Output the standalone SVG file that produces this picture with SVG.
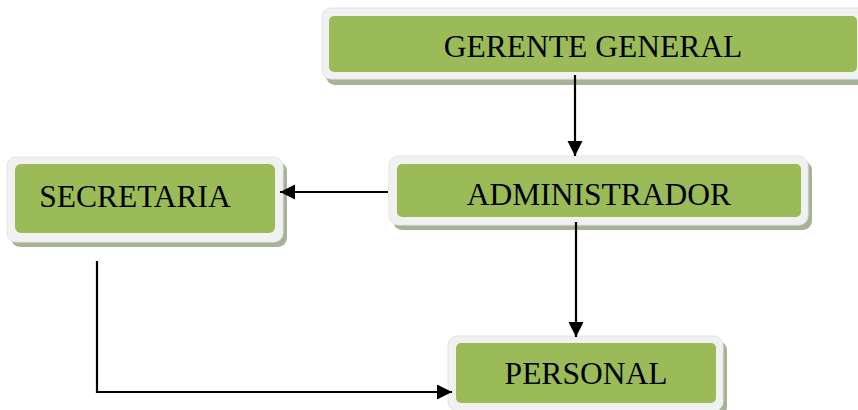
<svg xmlns="http://www.w3.org/2000/svg" width="858" height="410" viewBox="0 0 858 410">
<style>
.shadow{fill:#A7B296;}
.frame{fill:#F1F1F1;stroke:#E4E4E4;stroke-width:1;}
.box{fill:#9BBB59;}
.label{font-family:"Liberation Serif","Times New Roman",serif;font-size:31.5px;fill:#000;}
.conn{fill:none;stroke:#000;stroke-width:2.2;}
</style>
<defs>
<marker id="arr" markerUnits="userSpaceOnUse" markerWidth="16" markerHeight="16" refX="15" refY="7.5" orient="auto">
<path d="M0,0 L15,7.5 L0,15 z" fill="#000"/>
</marker>
</defs>
<rect width="858" height="410" fill="#fff"/>
<g id="gerente">
<rect class="shadow" x="326" y="13" width="545" height="72" rx="9"/>
<rect class="frame" x="322" y="8" width="545" height="71" rx="9"/>
<rect class="box" x="329" y="16" width="528" height="56" rx="5"/>
<text class="label" x="593" y="57" text-anchor="middle">GERENTE GENERAL</text>
</g>
<g id="secretaria">
<rect class="shadow" x="11" y="162" width="276" height="85" rx="9"/>
<rect class="frame" x="7" y="157" width="276" height="85" rx="9"/>
<rect class="box" x="15" y="164" width="260" height="69" rx="6"/>
<text class="label" x="135" y="207" text-anchor="middle">SECRETARIA</text>
</g>
<g id="administrador">
<rect class="shadow" x="393" y="161" width="419" height="69" rx="9"/>
<rect class="frame" x="389" y="156" width="419" height="69" rx="9"/>
<rect class="box" x="397" y="164" width="404" height="53" rx="5"/>
<text class="label" x="599" y="205" text-anchor="middle">ADMINISTRADOR</text>
</g>
<g id="personal">
<rect class="shadow" x="452" y="341" width="275" height="75" rx="9"/>
<rect class="frame" x="448" y="336" width="275" height="75" rx="9"/>
<rect class="box" x="456" y="343" width="260" height="60" rx="5"/>
<text class="label" x="586" y="384" text-anchor="middle">PERSONAL</text>
</g>
<g id="connectors">
<line class="conn" x1="575" y1="75" x2="575" y2="156" marker-end="url(#arr)"/>
<line class="conn" x1="388" y1="192" x2="280" y2="192" marker-end="url(#arr)"/>
<line class="conn" x1="576" y1="222" x2="576" y2="337" marker-end="url(#arr)"/>
<path class="conn" d="M97,261 V392 H452" marker-end="url(#arr)"/>
</g>
</svg>
